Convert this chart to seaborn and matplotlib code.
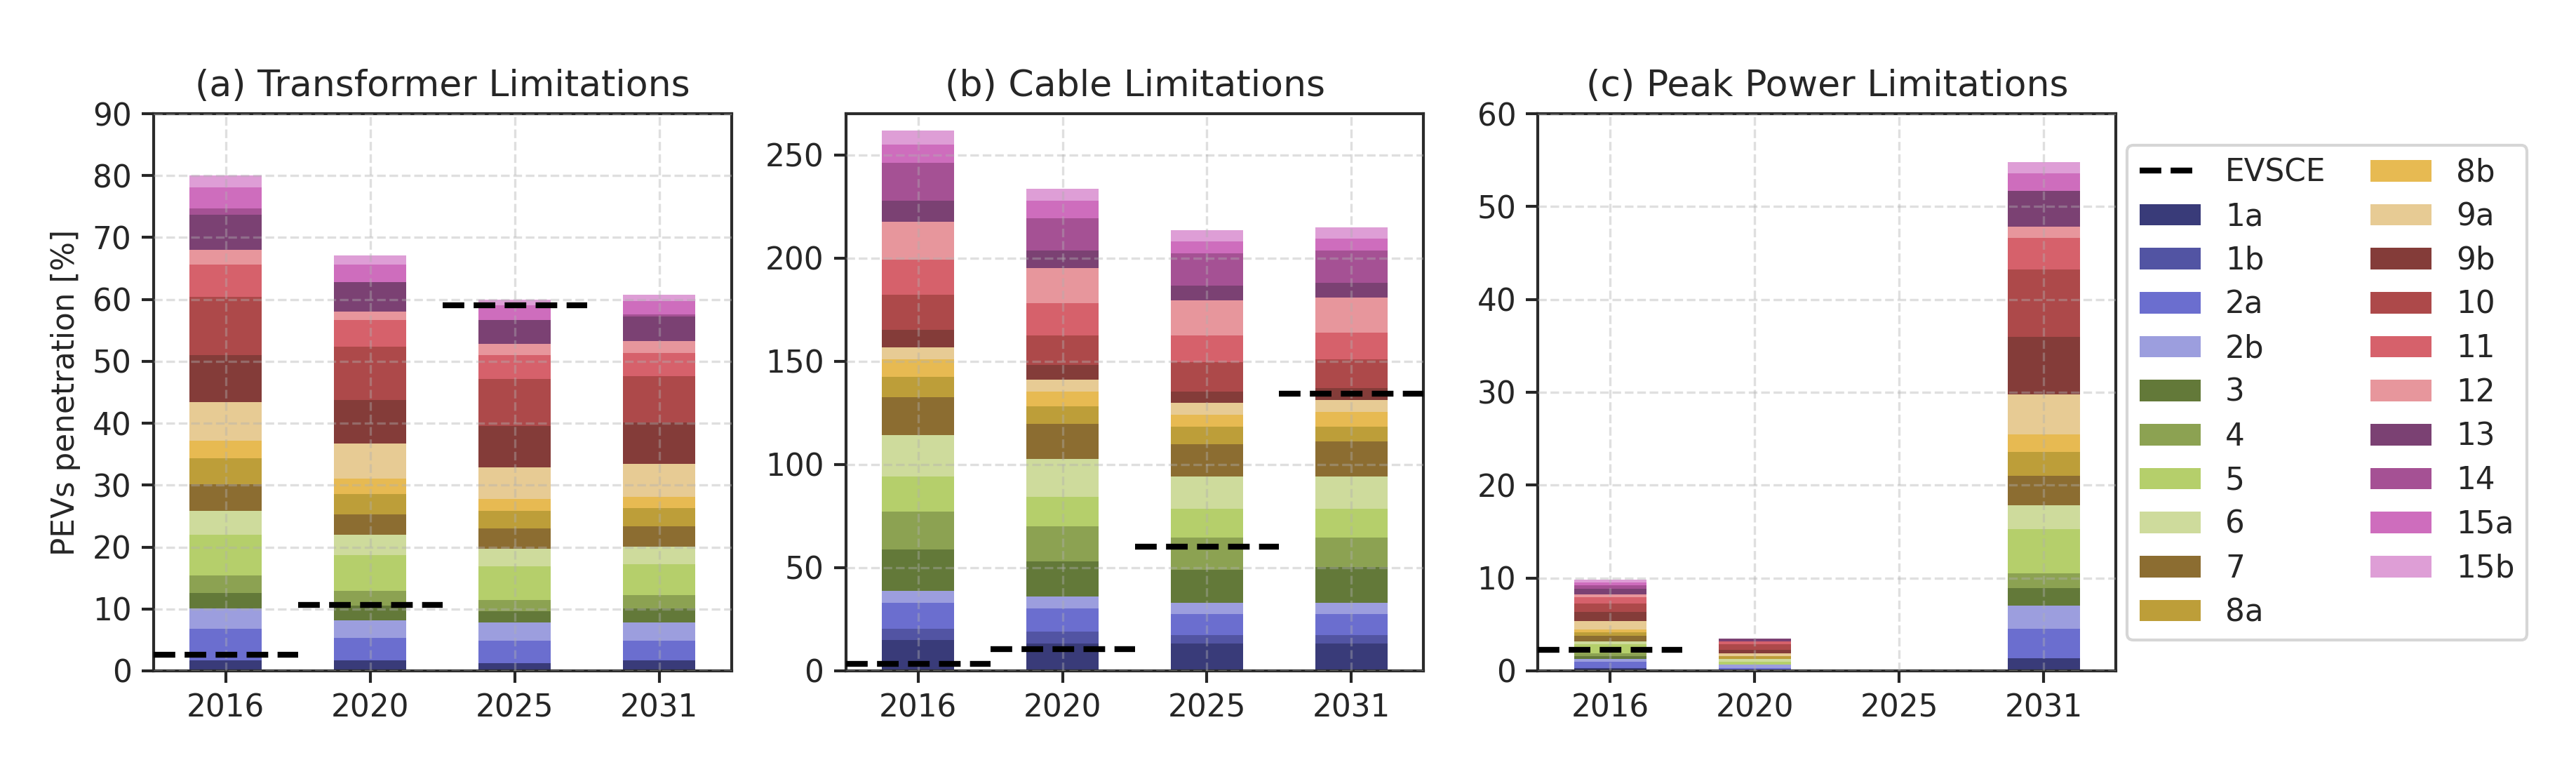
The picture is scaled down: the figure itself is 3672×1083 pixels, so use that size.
import numpy as np
import seaborn as sns
from matplotlib import pyplot as plt
from matplotlib.lines import Line2D
from matplotlib.patches import Patch

years = ["2016", "2020", "2025", "2031"]
categories = ["1a", "1b", "2a", "2b", "3", "4", "5", "6", "7", "8a",
              "8b", "9a", "9b", "10", "11", "12", "13", "14", "15a", "15b"]

# cumulative top of every stacked segment (1a ... 15b)
trafo_2016 = [1.65, 1.65, 6.8, 10.1, 12.6, 15.4, 22.0, 25.8, 30.1, 34.3,
              37.2, 43.4, 51.0, 60.4, 65.6, 68.0, 73.7, 74.7, 78.1, 80.0]
trafo_2020 = [1.65, 1.65, 5.3, 8.2, 10.5, 12.9, 18.7, 22.0, 25.3, 28.6,
              31.0, 36.7, 43.8, 52.4, 56.7, 58.0, 62.8, 62.8, 65.6, 67.1]
trafo_2025 = [1.2, 1.2, 4.9, 7.8, 9.6, 11.5, 16.9, 19.7, 23.0, 25.8,
              27.8, 32.9, 39.6, 47.1, 51.0, 52.8, 56.7, 56.7, 59.0, 60.0]
trafo_2031 = [1.65, 1.65, 4.9, 7.8, 10.1, 12.2, 17.2, 20.1, 23.4, 26.3,
              28.1, 33.4, 40.1, 47.6, 51.4, 53.3, 57.2, 57.6, 59.7, 60.8]

cable_2016 = [14.8, 20.4, 33.1, 38.7, 58.9, 77.2, 94.1, 114.3, 132.6, 142.5,
              150.9, 156.8, 165.3, 182.2, 199.3, 217.8, 227.7, 246.2, 254.9, 261.7]
cable_2020 = [13.4, 19.0, 30.3, 36.2, 53.1, 70.2, 84.3, 102.8, 119.7, 128.2,
              135.4, 141.1, 148.4, 162.4, 178.2, 195.1, 203.8, 219.2, 227.7, 233.6]
cable_2025 = [13.4, 17.4, 27.7, 33.1, 48.8, 64.6, 78.6, 94.1, 109.9, 118.3,
              124.2, 129.8, 135.4, 149.5, 162.4, 179.6, 186.6, 202.3, 208.0, 213.6]
cable_2031 = [13.4, 17.4, 27.7, 33.1, 50.2, 64.6, 78.6, 94.1, 111.3, 118.3,
              125.6, 131.2, 136.9, 150.9, 163.8, 181.0, 188.0, 203.8, 209.4, 215.0]

peak_2016 = [0.30, 0.30, 0.98, 1.28, 1.59, 1.89, 2.87, 3.17, 3.78, 4.16,
             4.46, 5.4, 6.35, 7.25, 7.93, 8.24, 8.84, 9.22, 9.52, 9.82]
peak_2020 = [0.0, 0.0, 0.30, 0.68, 0.68, 0.68, 0.98, 1.28, 1.28, 1.59,
             1.59, 1.89, 2.27, 2.87, 3.17, 3.17, 3.48, 3.48, 3.48, 3.48]
peak_2025 = [0.0] * 20
peak_2031 = [1.36, 1.36, 4.5, 7.06, 8.9, 10.5, 15.3, 17.8, 21.0, 23.6,
             25.5, 29.8, 36.0, 43.2, 46.6, 47.8, 51.7, 51.7, 53.6, 54.8]

evsce_trafo = [2.6, 10.7, 59.0, 134.3]
evsce_cable = [3.5, 10.6, 60.3, 134.3]
evsce_peak = [2.24, np.nan, np.nan, np.nan]

panels = [
    ("(a) Transformer Limitations", [trafo_2016, trafo_2020, trafo_2025, trafo_2031],
     evsce_trafo, (0, 90), np.arange(0, 91, 10)),
    ("(b) Cable Limitations", [cable_2016, cable_2020, cable_2025, cable_2031],
     evsce_cable, (0, 270), np.arange(0, 251, 50)),
    ("(c) Peak Power Limitations", [peak_2016, peak_2020, peak_2025, peak_2031],
     evsce_peak, (0, 60), np.arange(0, 61, 10)),
]

sns.set_style("ticks")
plt.rcParams.update({
    "font.family": ["DejaVu Sans"],
    "font.size": 10.5,
    "axes.titlesize": 12.5,
    "axes.labelsize": 10.5,
    "xtick.labelsize": 10.5,
    "ytick.labelsize": 10.5,
    "legend.fontsize": 10.5,
    "axes.linewidth": 1.0,
    "axes.edgecolor": "#2b2b2b",
})

colors = sns.color_palette("tab20b", 20)

fig, axes = plt.subplots(1, 3, figsize=(12.24, 3.61), dpi=300)
fig.subplots_adjust(left=0.0596, right=0.8214, top=0.8504, bottom=0.1173, wspace=0.198)

for ax, (title, tops, evsce, ylim, yticks) in zip(axes, panels):
    # overlay cumulative bars from the top segment down -> stacked look
    for k in reversed(range(len(categories))):
        sns.barplot(
            x=years,
            y=[t[k] for t in tops],
            color=colors[k],
            saturation=1,
            width=0.5,
            linewidth=0,
            errorbar=None,
            ax=ax,
        )
    for i, v in enumerate(evsce):
        if not np.isnan(v):
            ax.hlines(v, i - 0.5, i + 0.5, colors="black", linestyles="--",
                      linewidth=2, zorder=4)
    ax.set_xlim(-0.5, 3.5)
    ax.set_ylim(*ylim)
    ax.set_yticks(yticks)
    ax.set_title(title)
    ax.set_xlabel("")
    ax.set_ylabel("")
    ax.grid(True, linestyle="--", color="#b0b0b0", alpha=0.4, linewidth=0.8)
    ax.set_axisbelow(False)
    ax.tick_params(length=4, width=1)

axes[0].set_ylabel("PEVs penetration [%]")

handles = [Line2D([0], [0], color="black", linestyle="--", linewidth=2)]
handles += [Patch(facecolor=c, edgecolor="none") for c in colors]
labels = ["EVSCE"] + categories
fig.legend(handles, labels, loc="upper left", ncol=2,
           bbox_to_anchor=(3032 / 3672, 1 - 207 / 1083), borderaxespad=0,
           labelspacing=0.45, columnspacing=1.45, frameon=True)

fig.savefig("out.png", dpi=300)
plt.close()
